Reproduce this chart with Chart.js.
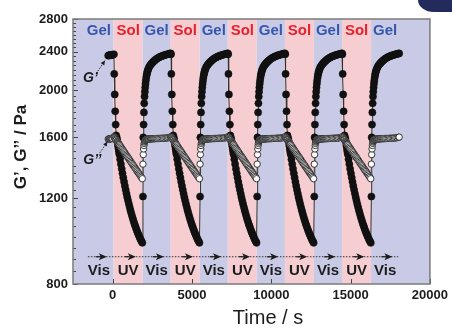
<!DOCTYPE html>
<html lang="en">
<head>
  <meta charset="utf-8">
  <title>G' / G'' light switching</title>
  <script src="https://cdn.jsdelivr.net/npm/chart.js"></script>
  <style>
    body { margin: 0; background: #fff; }
    #wrap { position: relative; width: 452px; height: 328px; }
    #badge {
      position: absolute; right: 0; top: 0; width: 34px; height: 12px;
      background: #232a5c; border-bottom-left-radius: 16px 12px;
    }
  </style>
</head>
<body>
<div id="wrap">
  <canvas id="chart" width="452" height="328"></canvas>
  <div id="badge"></div>
</div>
<script>
// phase boundaries in s: Vis | UV | Vis | UV ... (first / last edges = start / end of run)
const phaseBounds = [-1800, 60, 1890, 3660, 5490, 7260, 9090, 10860, 12690, 14460, 16290, 18060];
const stateLabels = ['Gel', 'Sol', 'Gel', 'Sol', 'Gel', 'Sol', 'Gel', 'Sol', 'Gel', 'Sol', 'Gel'];
const lightLabels = ['Vis', 'UV', 'Vis', 'UV', 'Vis', 'UV', 'Vis', 'UV', 'Vis', 'UV', 'Vis'];

const xTicks = [0, 5000, 10000, 15000, 20000];
const yTicks = [800, 1200, 1600, 2000, 2400, 2800];

// before the first UV step
const initTime = [-280, -240, -200, -160, -120, -80, -40, 0];
const initGp   = [2355, 2357, 2359, 2360, 2361, 2362, 2363, 2364];
const initGpp  = [1587, 1588, 1588, 1589, 1590, 1590, 1591, 1592];

// one UV period, time from UV on
const uvTime = [20, 40, 70, 100, 130, 160, 210, 235, 260, 285, 310, 335, 360,
  410, 460, 510, 560, 610, 660, 710, 760, 810, 860, 910, 960, 1010, 1060, 1110,
  1160, 1210, 1260, 1310, 1360, 1410, 1460, 1510, 1560, 1610, 1660, 1710, 1760, 1810];
const uvGp = [2370, 2160, 1960, 1810, 1700, 1615, 1593, 1572, 1552, 1533, 1514, 1495, 1477,
  1443, 1410, 1379, 1350, 1323, 1297, 1272, 1249, 1227, 1206, 1187, 1168, 1151, 1134, 1119,
  1104, 1090, 1077, 1064, 1053, 1042, 1031, 1021, 1012, 1003, 994, 986, 979, 972];
const uvGpp = [1605, 1600, 1596, 1590, 1585, 1579, 1571, 1567, 1562, 1558, 1554, 1550, 1546,
  1538, 1529, 1520, 1512, 1503, 1495, 1487, 1478, 1470, 1462, 1454, 1446, 1438, 1430, 1422,
  1414, 1406, 1399, 1391, 1383, 1376, 1368, 1361, 1353, 1346, 1339, 1331, 1324, 1316];

// one Vis period, time from Vis on
const visTime = [20, 40, 60, 80, 100, 120, 140, 160, 180, 200, 225, 250, 275, 300, 330, 360,
  400, 450, 500, 550, 600, 660, 720, 780, 850, 920, 1000, 1080, 1160, 1240, 1320, 1400,
  1480, 1560, 1640, 1720, 1770];
const visGp = [1210, 1600, 1700, 1800, 1880, 1940, 1985, 2025, 2060, 2090, 2120, 2145, 2165,
  2182, 2198, 2212, 2228, 2243, 2255, 2265, 2275, 2286, 2296, 2305, 2315, 2324, 2332, 2340,
  2346, 2352, 2357, 2362, 2366, 2370, 2374, 2378, 2380];
const visGpp = [1410, 1475, 1515, 1540, 1555, 1565, 1572, 1576, 1579, 1581, 1583, 1584, 1585,
  1586, 1586, 1587, 1587, 1588, 1588, 1589, 1589, 1590, 1590, 1590, 1591, 1591, 1592, 1592,
  1593, 1593, 1594, 1594, 1595, 1596, 1598, 1600, 1602];

const arrowLevel = 910;   // Pa, dotted Vis/UV arrow line
const arrowFrom = -1560, arrowTo = 18000, arrowLead = 430;

const BLUE = '#c9cbe6';
const PINK = '#f6ced2';

// build the series
const gp = [], gpp = [];
initTime.forEach((t, i) => { gp.push({x: t, y: initGp[i]}); gpp.push({x: t, y: initGpp[i]}); });
for (let k = 1; k < phaseBounds.length - 1; k += 2) {
  const uvOn = phaseBounds[k], visOn = phaseBounds[k + 1];
  uvTime.forEach((t, i) => { gp.push({x: uvOn + t, y: uvGp[i]}); gpp.push({x: uvOn + t, y: uvGpp[i]}); });
  visTime.forEach((t, i) => { gp.push({x: visOn + t, y: visGp[i]}); gpp.push({x: visOn + t, y: visGpp[i]}); });
}

const FONT = '"Liberation Sans", Arial, sans-serif';

const decor = {
  id: 'decor',
  beforeDraw(chart) {
    const {ctx, chartArea: a, scales: {x}} = chart;
    ctx.save();
    const n = phaseBounds.length - 1;
    for (let i = 0; i < n; i++) {
      const x0 = i === 0 ? a.left : x.getPixelForValue(phaseBounds[i]);
      const x1 = i === n - 1 ? a.right : x.getPixelForValue(phaseBounds[i + 1]);
      ctx.fillStyle = i % 2 ? PINK : BLUE;
      ctx.fillRect(x0, a.top, x1 - x0, a.bottom - a.top);
    }
    ctx.restore();
  },
  beforeDatasetsDraw(chart) {
    const {ctx, chartArea: a, scales: {x, y}} = chart;
    ctx.save();
    ctx.textAlign = 'center';
    ctx.textBaseline = 'middle';
    ctx.font = 'bold 15px ' + FONT;
    for (let i = 0; i < stateLabels.length; i++) {
      const cx = x.getPixelForValue((phaseBounds[i] + phaseBounds[i + 1]) / 2);
      ctx.fillStyle = stateLabels[i] === 'Gel' ? '#3656ad' : '#e8222c';
      ctx.fillText(stateLabels[i], cx, a.top + 12);
      ctx.fillStyle = '#1c1c1c';
      ctx.fillText(lightLabels[i], cx, a.bottom - 13);
    }
    // dotted arrow line
    const ly = y.getPixelForValue(arrowLevel);
    ctx.strokeStyle = '#333';
    ctx.lineWidth = 1;
    ctx.setLineDash([1.5, 1.5]);
    ctx.beginPath();
    ctx.moveTo(x.getPixelForValue(arrowFrom), ly);
    ctx.lineTo(x.getPixelForValue(arrowTo), ly);
    ctx.stroke();
    ctx.setLineDash([]);
    ctx.fillStyle = '#1c1c1c';
    for (let i = 1; i < phaseBounds.length; i++) {
      const tx = x.getPixelForValue(phaseBounds[i] - arrowLead);
      ctx.beginPath();
      ctx.moveTo(tx, ly);
      ctx.lineTo(tx - 8, ly - 3.5);
      ctx.lineTo(tx - 6, ly);
      ctx.lineTo(tx - 8, ly + 3.5);
      ctx.closePath();
      ctx.fill();
      ctx.fillRect(tx - 11, ly - 0.6, 5, 1.2);
    }
    ctx.restore();
  },
  afterDraw(chart) {
    const {ctx, chartArea: a, scales: {x, y}} = chart;
    ctx.save();
    // ticks (inward)
    ctx.strokeStyle = '#444';
    ctx.lineWidth = 1;
    ctx.beginPath();
    for (let v = yTicks[0]; v <= yTicks[yTicks.length - 1]; v += 50) {
      const py = Math.round(y.getPixelForValue(v)) + 0.5;
      const len = yTicks.includes(v) ? 5 : 3;
      ctx.moveTo(a.left, py); ctx.lineTo(a.left + len, py);
    }
    xTicks.forEach(v => {
      const px = Math.round(x.getPixelForValue(v)) + 0.5;
      ctx.moveTo(px, a.bottom); ctx.lineTo(px, a.bottom - 5);
    });
    ctx.stroke();
    // frame
    ctx.strokeStyle = '#7b7b7b';
    ctx.lineWidth = 1.5;
    ctx.strokeRect(a.left, a.top, a.right - a.left, a.bottom - a.top);

    // axis titles
    ctx.fillStyle = '#1c1c1c';
    ctx.textBaseline = 'middle';
    ctx.textAlign = 'center';
    ctx.font = '20px ' + FONT;
    ctx.fillText('Time / s', 268, 318);

    ctx.save();
    ctx.translate(21, 147);
    ctx.rotate(-Math.PI / 2);
    ctx.font = 'bold 17px ' + FONT;
    ctx.textAlign = 'center';
    ctx.fillText('G\u2019, G\u2019\u2019 / Pa', 0, 0);
    ctx.restore();

    // G' and G'' markers
    ctx.font = 'italic bold 14px ' + FONT;
    ctx.textAlign = 'center';
    ctx.fillText('G\u2019', x.getPixelForValue(-1400), y.getPixelForValue(2120));
    ctx.fillText('G\u2019\u2019', x.getPixelForValue(-1280), y.getPixelForValue(1434));
    const pointer = (t0, v0, t1, v1) => {
      const x0 = x.getPixelForValue(t0), y0 = y.getPixelForValue(v0);
      const x1 = x.getPixelForValue(t1), y1 = y.getPixelForValue(v1);
      ctx.setLineDash([1.5, 1.5]);
      ctx.strokeStyle = '#222';
      ctx.lineWidth = 1;
      ctx.beginPath(); ctx.moveTo(x0, y0); ctx.lineTo(x1, y1); ctx.stroke();
      ctx.setLineDash([]);
      const ang = Math.atan2(y1 - y0, x1 - x0);
      ctx.beginPath();
      ctx.moveTo(x1, y1);
      ctx.lineTo(x1 - 5 * Math.cos(ang - 0.45), y1 - 5 * Math.sin(ang - 0.45));
      ctx.lineTo(x1 - 5 * Math.cos(ang + 0.45), y1 - 5 * Math.sin(ang + 0.45));
      ctx.closePath();
      ctx.fill();
    };
    pointer(-940, 2188, -480, 2300);
    pointer(-810, 1487, -330, 1568);
    ctx.restore();
  }
};

new Chart(document.getElementById('chart'), {
  type: 'scatter',
  data: {
    datasets: [
      {
        label: "G''",
        data: gpp,
        order: 0,
        showLine: true,
        borderColor: '#555',
        borderWidth: 0.6,
        pointRadius: 3.2,
        pointBackgroundColor: '#fff',
        pointBorderColor: '#222',
        pointBorderWidth: 0.9
      },
      {
        label: "G'",
        data: gp,
        order: 1,
        showLine: true,
        borderColor: '#333',
        borderWidth: 1,
        pointRadius: 3.6,
        pointBackgroundColor: '#111',
        pointBorderColor: '#111',
        pointBorderWidth: 0.5
      }
    ]
  },
  options: {
    responsive: false,
    animation: false,
    events: [],
    layout: { padding: { left: 0, right: 20, top: 19, bottom: 0 } },
    plugins: { legend: { display: false }, tooltip: { enabled: false } },
    scales: {
      x: {
        type: 'linear',
        min: -2500,
        max: 20000,
        afterBuildTicks: s => { s.ticks = xTicks.map(v => ({ value: v })); },
        afterFit: s => { s.height = 44; },
        grid: { display: false, drawTicks: false },
        border: { display: false },
        ticks: {
          autoSkip: false, maxRotation: 0, padding: 4, color: '#1c1c1c',
          font: { family: FONT, size: 13, weight: 'bold' },
          callback: v => String(v)
        }
      },
      y: {
        type: 'logarithmic',
        min: 800,
        max: 2800,
        afterBuildTicks: s => { s.ticks = yTicks.map(v => ({ value: v })); },
        afterFit: s => { s.width = 73; },
        grid: { display: false, drawTicks: false },
        border: { display: false },
        ticks: {
          autoSkip: false, padding: 5, color: '#1c1c1c',
          font: { family: FONT, size: 13, weight: 'bold' },
          callback: v => String(v)
        }
      }
    }
  },
  plugins: [decor]
});
</script>
</body>
</html>
